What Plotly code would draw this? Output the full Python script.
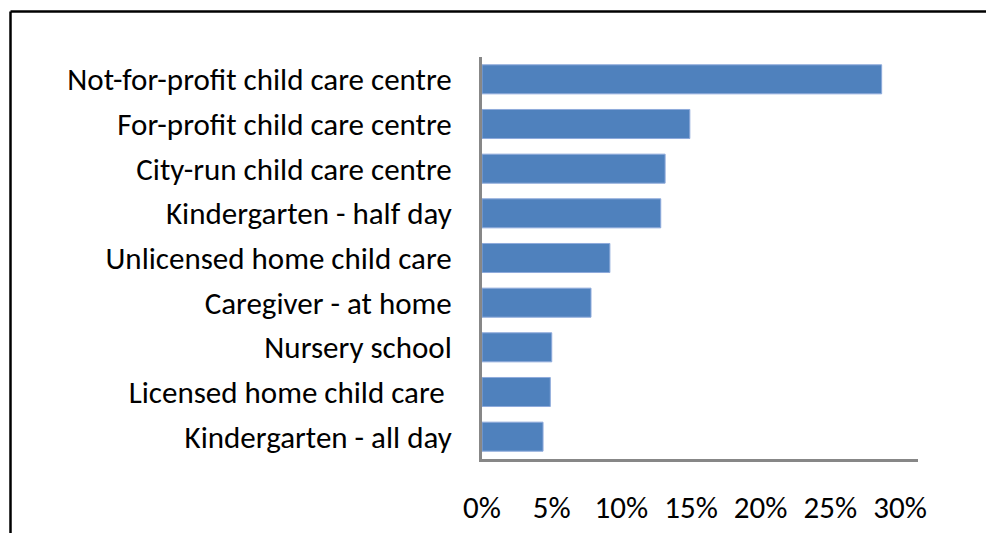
import plotly.graph_objects as go

categories = [
    "Not-for-profit child care centre",
    "For-profit child care centre",
    "City-run child care centre",
    "Kindergarten - half day",
    "Unlicensed home child care",
    "Caregiver - at home",
    "Nursery school",
    "Licensed home child care ",
    "Kindergarten - all day",
]
values = [27.5, 14.3, 12.6, 12.3, 8.8, 7.5, 4.8, 4.7, 4.2]
tick_vals = [0, 5, 10, 15, 20, 25, 30]
tick_text = ["0%", "5%", "10%", "15%", "20%", "25%", "30%"]

W, H = 986, 533
L, R, T, B = 482, 68, 57, 74
FONT = "Calibri, Carlito, Lato, sans-serif"
FS = 31

fig = go.Figure()
fig.add_trace(go.Bar(
    y=categories, x=values, orientation="h",
    marker=dict(color="#4F81BD", line=dict(color="#8EAADB", width=1)),
    hoverinfo="x+y",
))
fig.add_trace(go.Scatter(x=[], y=[], xaxis="x2", yaxis="y", showlegend=False))

pw = W - L - R
ph = H - T - B
def px_x(p):
    return (p - L) / pw
def px_y(p):
    return (H - B - p) / ph

fig.update_layout(
    width=W, height=H, autosize=False,
    margin=dict(l=L, r=R, t=T, b=B, autoexpand=False),
    paper_bgcolor="white", plot_bgcolor="white",
    showlegend=False,
    bargap=0.35,
    font=dict(family=FONT, size=FS, color="black"),
    xaxis=dict(range=[0, 30], showticklabels=False, showgrid=False, zeroline=False,
               showline=True, linecolor="#878787", linewidth=3, ticks="",
               automargin=False, fixedrange=True),
    xaxis2=dict(overlaying="x", side="bottom", range=[0, 30 * 436 / 418],
                tickvals=tick_vals, ticktext=tick_text, showgrid=False, zeroline=False,
                showline=False, ticks="", ticklabelstandoff=27, automargin=False,
                tickfont=dict(family=FONT, size=FS, color="black")),
    yaxis=dict(categoryorder="array", categoryarray=categories[::-1],
               showgrid=False, zeroline=False, showline=True, linecolor="#878787",
               linewidth=3, ticks="", ticklabelstandoff=21, automargin=False,
               tickfont=dict(family=FONT, size=FS, color="black")),
    shapes=[
        dict(type="line", xref="paper", yref="paper",
             x0=px_x(10.5), x1=px_x(986), y0=px_y(11.5), y1=px_y(11.5),
             line=dict(color="black", width=2.5)),
        dict(type="line", xref="paper", yref="paper",
             x0=px_x(10.5), x1=px_x(10.5), y0=px_y(11.5), y1=px_y(533),
             line=dict(color="black", width=2.5)),
    ],
)

fig.write_html("out.html", config={"displayModeBar": False},
               post_script="document.body.style.margin='0px';")
